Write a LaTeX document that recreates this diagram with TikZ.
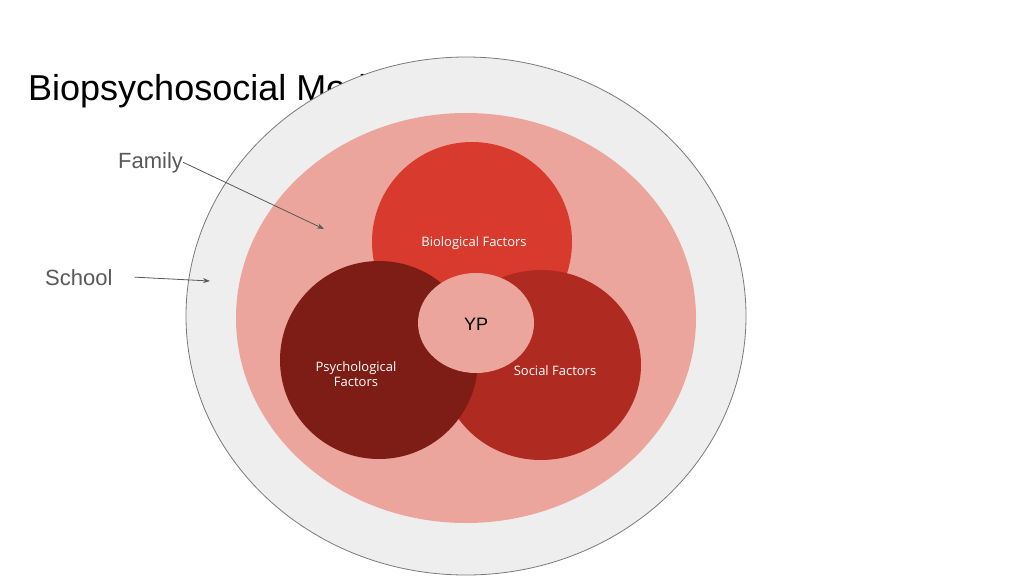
\documentclass[tikz,border=0pt]{standalone}
\usepackage{fontspec}
\setmainfont{Liberation Sans}
\newfontfamily\osans{Open Sans}
\usetikzlibrary{arrows.meta}
\definecolor{ring}{HTML}{EEEEEE}
\definecolor{pinkf}{HTML}{ECA59C}
\definecolor{bio}{HTML}{D83B2D}
\definecolor{psy}{HTML}{7E1C16}
\definecolor{soc}{HTML}{AF2A20}
\definecolor{lab}{HTML}{595959}
\begin{document}
\begin{tikzpicture}[x=1pt,y=-1pt,
  circ/.style={ellipse,draw=none,inner sep=0,minimum width=#1},
  flab/.style={font=\osans\fontsize{13}{15}\selectfont,text=white,align=center},
  side/.style={text=lab,font=\fontsize{22}{26}\selectfont,anchor=base west,inner sep=0},
  arr/.style={draw=lab,line width=0.8pt,-{Stealth[length=7pt,width=5pt]}}]
\useasboundingbox (0,0) rectangle (1024,576);
\fill[white] (0,0) rectangle (1024,576);
\node[inner sep=0,anchor=base west,font=\fontsize{36}{40}\selectfont] (title) at (28,100) {Biopsychosocial Model};
\draw[fill=ring,draw=lab!80,line width=0.8pt] (466,316) ellipse [x radius=280,y radius=259];
\fill[pinkf] (466,318) ellipse [x radius=230,y radius=205];
\fill[bio] (472,242) ellipse [x radius=100,y radius=100];
\fill[soc] (541,365) ellipse [x radius=100,y radius=95];
\fill[psy] (379,360) ellipse [x radius=99,y radius=99];
\node[flab] (b) at (474,243) {Biological Factors};
\node[flab] (s) at (555,371) {Social Factors};
\node[flab] (p) at (356,374) {Psychological\\Factors};
\fill[pinkf] (476,323) ellipse [x radius=58,y radius=50];
\node[font=\fontsize{18}{20}\selectfont] (yp) at (476,324) {YP};
\node[side] (fam) at (118,168) {Family};
\node[side] (sch) at (45,285) {School};
\coordinate (fa) at (324,229);
\coordinate (sa) at (210,281);
\draw[arr] (fam.east) -- (fa);
\draw[arr] ([xshift=22pt]sch.east) -- (sa);
\end{tikzpicture}
\end{document}
